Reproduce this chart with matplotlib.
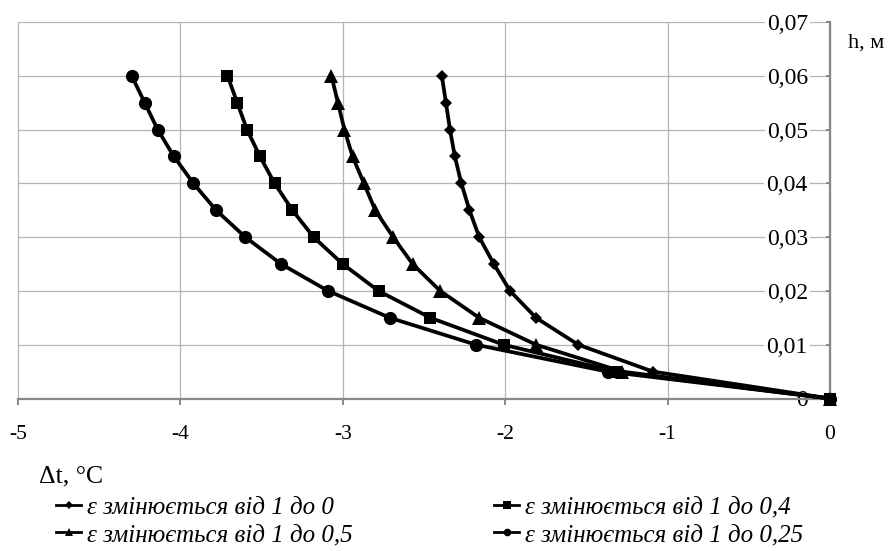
import matplotlib

matplotlib.use("Agg")

import matplotlib.pyplot as plt
from matplotlib.lines import Line2D
from matplotlib.ticker import FixedLocator, FuncFormatter

plt.rcParams["font.family"] = ["Liberation Serif", "DejaVu Serif"]
plt.rcParams["axes.unicode_minus"] = False

# layer depth h, m (same points for every curve)
h = [0.0, 0.005, 0.01, 0.015, 0.02, 0.025, 0.03, 0.035, 0.04, 0.045, 0.05, 0.055, 0.06]

# temperature drop, degC, for each range of emissivity
dt_eps_0 = [0.0, -1.09, -1.55, -1.81, -1.97, -2.07, -2.16, -2.22, -2.27, -2.31, -2.34, -2.365, -2.39]
dt_eps_05 = [0.0, -1.28, -1.81, -2.16, -2.40, -2.57, -2.69, -2.80, -2.87, -2.94, -2.99, -3.03, -3.07]
dt_eps_04 = [0.0, -1.32, -2.01, -2.46, -2.78, -3.00, -3.18, -3.31, -3.42, -3.51, -3.59, -3.65, -3.71]
dt_eps_025 = [0.0, -1.37, -2.18, -2.71, -3.09, -3.38, -3.60, -3.78, -3.92, -4.04, -4.14, -4.22, -4.30]

labels = {
    "0": "ε змінюється від 1 до 0",
    "05": "ε змінюється від 1 до 0,5",
    "04": "ε змінюється від 1 до 0,4",
    "025": "ε змінюється від 1 до 0,25",
}

x_ticks = [-5, -4, -3, -2, -1, 0]
y_ticks = [0.0, 0.01, 0.02, 0.03, 0.04, 0.05, 0.06, 0.07]

fig = plt.figure(figsize=(8.88, 5.51), dpi=100)
ax = fig.add_axes([18 / 888, 1 - 398.5 / 551, (830 - 18) / 888, (398.5 - 22) / 551])

lw = 2.7
series = [
    (dt_eps_025, "o", 9.5, labels["025"]),
    (dt_eps_05, "^", 9.5, labels["05"]),
    (dt_eps_0, "D", 6.0, labels["0"]),
    (dt_eps_04, "s", 9.0, labels["04"]),
]
for dt, marker, ms, label in series:
    ax.plot(dt, h, color="black", linewidth=lw, marker=marker, markersize=ms,
            markeredgewidth=0, clip_on=False, zorder=3, label=label)

ax.set_xlim(-5, 0)
ax.set_ylim(0, 0.07)
ax.xaxis.set_major_locator(FixedLocator(x_ticks))
ax.yaxis.set_major_locator(FixedLocator(y_ticks))
ax.xaxis.set_major_formatter(FuncFormatter(lambda v, p: f"{v:g}"))
ax.yaxis.set_major_formatter(FuncFormatter(lambda v, p: "0" if v == 0 else f"{v:.2f}".replace(".", ",")))

ax.grid(True, color="#b4b4b4", linewidth=0.9, zorder=0)
for line in ax.get_xgridlines() + ax.get_ygridlines():
    line.set_clip_on(False)
ax.set_axisbelow(True)

ax.spines["top"].set_visible(False)
ax.spines["right"].set_visible(False)
ax.spines["left"].set_position(("data", 0))
for side in ("left", "bottom"):
    ax.spines[side].set_color("#888888")
    ax.spines[side].set_linewidth(1.6)
    ax.spines[side].set_zorder(2)

ax.tick_params(axis="x", direction="out", length=4, width=1.4, color="#888888",
               pad=15, labelsize=15.5)
ax.tick_params(axis="y", direction="out", length=3, width=1.4, color="#888888",
               pad=13, labelsize=17)
for lab in ax.get_yticklabels():
    lab.set_bbox(dict(facecolor="white", edgecolor="none", pad=1.5))

fig.text(848 / 888, 1 - 43 / 551, "h, м", fontsize=16, va="center", ha="left")
fig.text(39 / 888, 1 - 476 / 551, "Δt, °C", fontsize=18.5, va="center", ha="left")

def legend_handle(marker, ms):
    return Line2D([], [], color="black", linewidth=2.0, marker=marker, markersize=ms,
                  markeredgewidth=0)

leg_kw = dict(frameon=False, handlelength=1.0, handletextpad=0.25,
              labelspacing=0.2, borderaxespad=0, borderpad=0,
              prop={"style": "italic", "size": 18})
leg1 = fig.legend([legend_handle("D", 4), legend_handle("^", 5.5)],
                  [labels["0"], labels["05"]], loc="upper left",
                  bbox_to_anchor=(56 / 888, 1 - 496 / 551), **leg_kw)
leg2 = fig.legend([legend_handle("s", 5.5), legend_handle("o", 5.5)],
                  [labels["04"], labels["025"]], loc="upper left",
                  bbox_to_anchor=(494 / 888, 1 - 496 / 551), **leg_kw)

fig.savefig("out.png", dpi=100)
